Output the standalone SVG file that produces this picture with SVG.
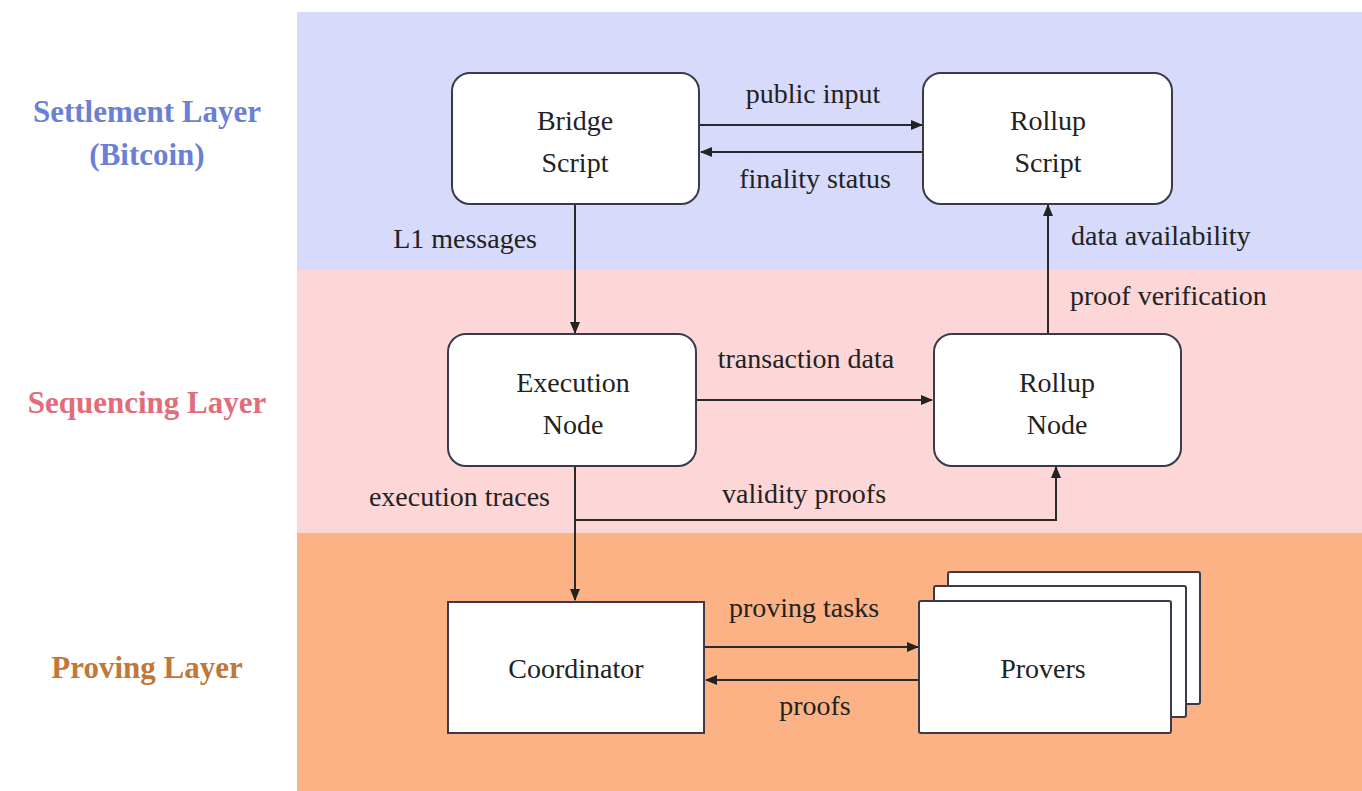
<svg xmlns="http://www.w3.org/2000/svg" width="1362" height="791" viewBox="0 0 1362 791">
<defs>
<marker id="ah" markerWidth="12" markerHeight="10" refX="11" refY="5" orient="auto" markerUnits="userSpaceOnUse">
<path d="M0,0 L12,5 L0,10 Z" fill="#222"/>
</marker>
</defs>
<style>
.node{fill:#fff;stroke:#3a3a4a;stroke-width:2}
.nt{font-family:'Liberation Serif','Times New Roman',Times,'DejaVu Serif',serif;font-size:28px;fill:#222;text-anchor:middle}
.lbl{font-family:'Liberation Serif','Times New Roman',Times,'DejaVu Serif',serif;font-size:28px;fill:#222}
.layer{font-family:'Liberation Serif','Times New Roman',Times,'DejaVu Serif',serif;font-size:31px;font-weight:bold;text-anchor:middle}
.c{fill:none;stroke:#2a2a2a;stroke-width:2}
</style>
<rect x="0" y="0" width="1362" height="791" fill="#fff"/>
<g id="bands">
<rect x="297" y="12" width="1065" height="258" fill="#d7dafa"/>
<rect x="297" y="270" width="1065" height="263" fill="#fdd6d8"/>
<rect x="297" y="533" width="1065" height="258" fill="#fcb284"/>
</g>
<g id="layer-labels">
<text class="layer" x="147" y="122" fill="#6b7fd7">Settlement Layer</text>
<text class="layer" x="147" y="165" fill="#6b7fd7">(Bitcoin)</text>
<text class="layer" x="147" y="413" fill="#e06d79">Sequencing Layer</text>
<text class="layer" x="147" y="678" fill="#c2773a">Proving Layer</text>
</g>
<g id="connectors">
<line class="c" x1="699" y1="125" x2="922" y2="125" marker-end="url(#ah)"/>
<line class="c" x1="923" y1="152" x2="701" y2="152" marker-end="url(#ah)"/>
<line class="c" x1="575" y1="204" x2="575" y2="333" marker-end="url(#ah)"/>
<line class="c" x1="1048" y1="334" x2="1048" y2="205" marker-end="url(#ah)"/>
<line class="c" x1="696" y1="400" x2="932" y2="400" marker-end="url(#ah)"/>
<line class="c" x1="575" y1="466" x2="575" y2="600" marker-end="url(#ah)"/>
<polyline class="c" points="575,520 1056,520 1056,467" marker-end="url(#ah)"/>
<line class="c" x1="704" y1="647" x2="918" y2="647" marker-end="url(#ah)"/>
<line class="c" x1="919" y1="680" x2="706" y2="680" marker-end="url(#ah)"/>
<text class="lbl" x="813" y="103" text-anchor="middle">public input</text>
<text class="lbl" x="815" y="188" text-anchor="middle">finality status</text>
<text class="lbl" x="537" y="248" text-anchor="end">L1 messages</text>
<text class="lbl" x="1071" y="245">data availability</text>
<text class="lbl" x="1070" y="305">proof verification</text>
<text class="lbl" x="806" y="368" text-anchor="middle">transaction data</text>
<text class="lbl" x="550" y="506" text-anchor="end">execution traces</text>
<text class="lbl" x="804" y="503" text-anchor="middle">validity proofs</text>
<text class="lbl" x="804" y="617" text-anchor="middle">proving tasks</text>
<text class="lbl" x="815" y="715" text-anchor="middle">proofs</text>
</g>
<g id="bridge-script">
<rect class="node" x="452" y="73" width="247" height="131" rx="18"/>
<text class="nt" x="575" y="130">Bridge</text>
<text class="nt" x="575" y="172">Script</text>
</g>
<g id="rollup-script">
<rect class="node" x="923" y="73" width="249" height="131" rx="18"/>
<text class="nt" x="1048" y="130">Rollup</text>
<text class="nt" x="1048" y="172">Script</text>
</g>
<g id="execution-node">
<rect class="node" x="448" y="334" width="248" height="132" rx="18"/>
<text class="nt" x="573" y="392">Execution</text>
<text class="nt" x="573" y="434">Node</text>
</g>
<g id="rollup-node">
<rect class="node" x="934" y="334" width="247" height="132" rx="18"/>
<text class="nt" x="1057" y="392">Rollup</text>
<text class="nt" x="1057" y="434">Node</text>
</g>
<g id="coordinator">
<rect class="node" x="448" y="602" width="256" height="131"/>
<text class="nt" x="576" y="678">Coordinator</text>
</g>
<g id="provers">
<rect class="node" x="948" y="572" width="252" height="132" rx="2"/>
<rect class="node" x="934" y="586" width="252" height="131" rx="2"/>
<rect class="node" x="919" y="601" width="252" height="132" rx="2"/>
<text class="nt" x="1043" y="678">Provers</text>
</g>
</svg>
